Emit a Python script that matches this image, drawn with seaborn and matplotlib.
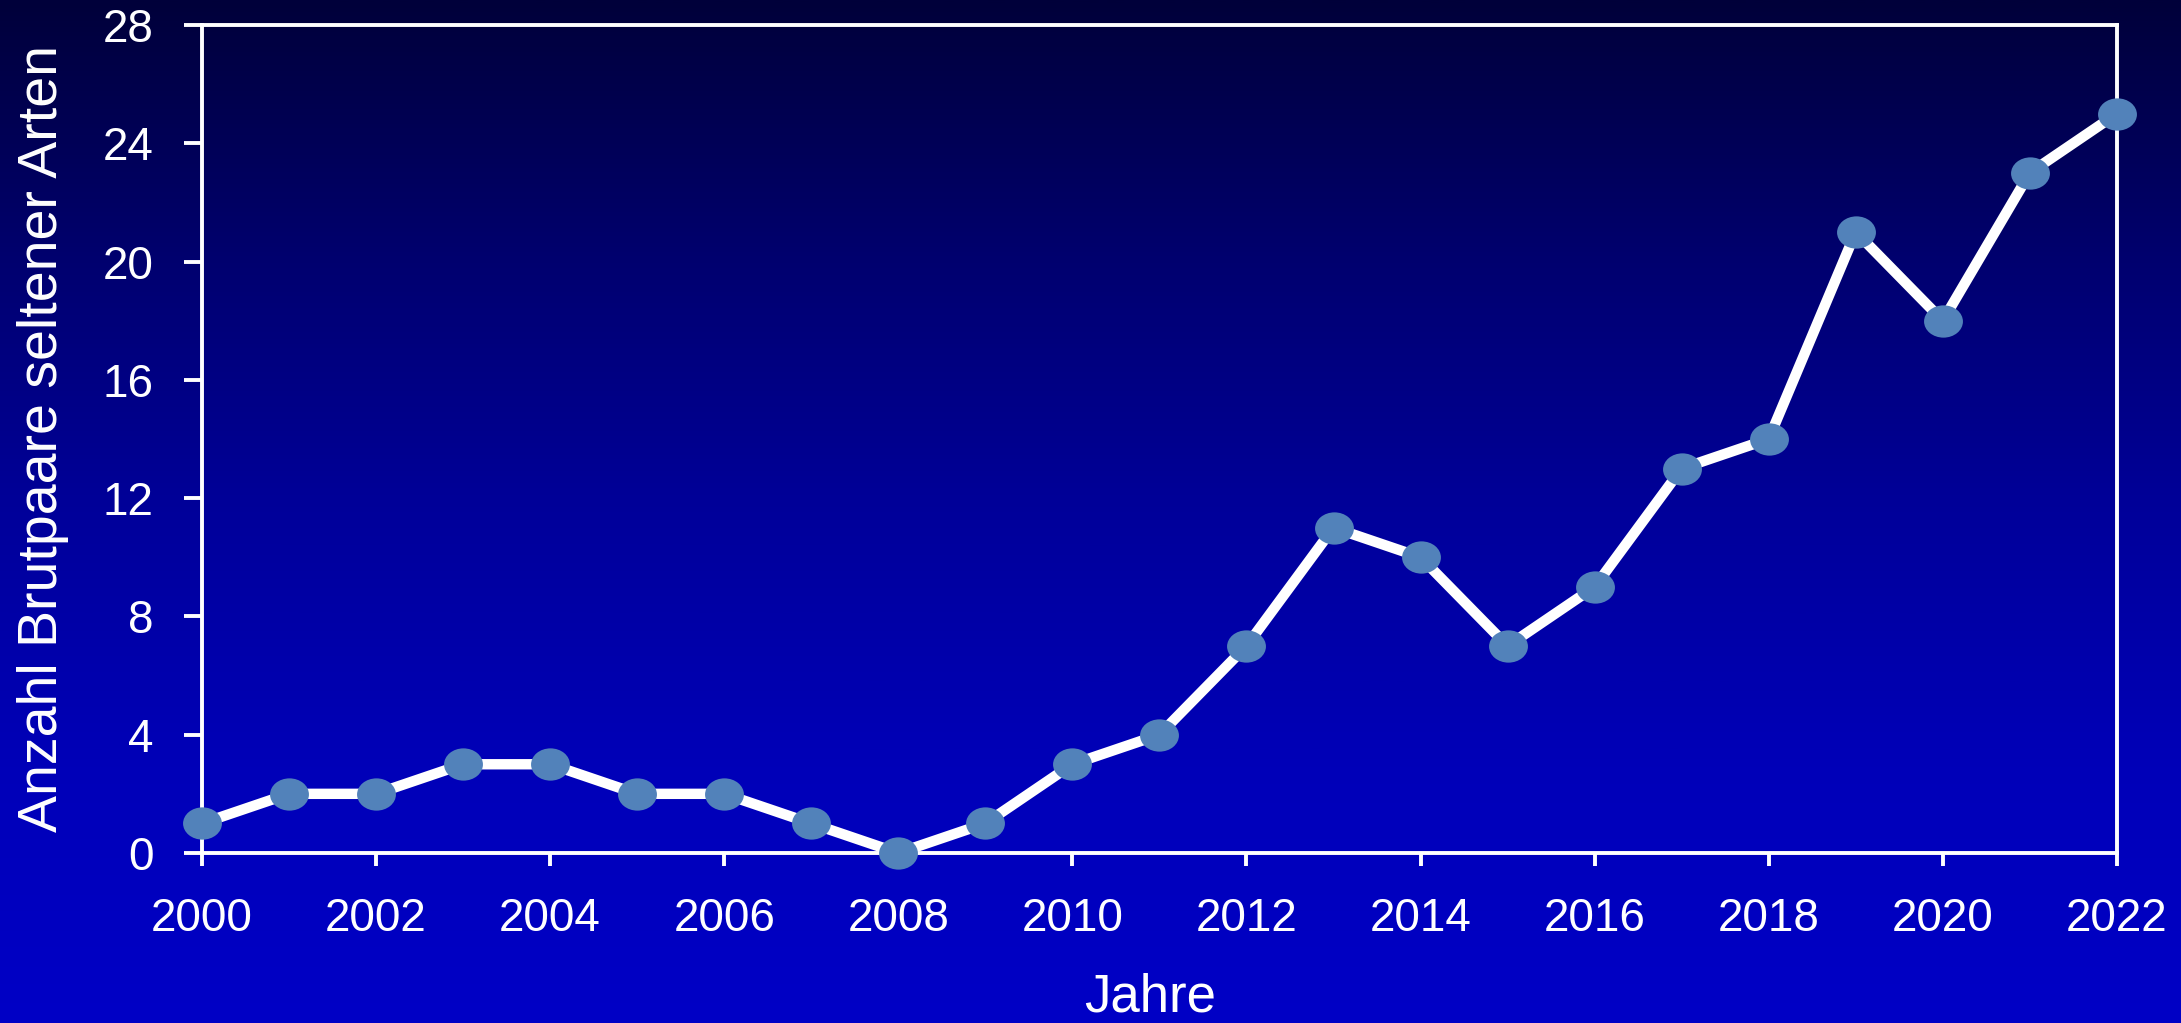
import numpy as np
import pandas as pd
import matplotlib
matplotlib.use("Agg")
import matplotlib.pyplot as plt
from matplotlib.path import Path
from matplotlib.transforms import Affine2D
from matplotlib.colors import LinearSegmentedColormap
import seaborn as sns

# Breeding pairs of rare species per year
years = list(range(2000, 2023))
pairs = [1, 2, 2, 3, 3, 2, 2, 1, 0, 1, 3, 4, 7, 11, 10, 7, 9, 13, 14, 21, 18, 23, 25]
x_ticks = list(range(2000, 2023, 2))
y_ticks = list(range(0, 29, 4))

sns.set_theme(style="ticks")
plt.rcParams["font.family"] = ["Liberation Sans", "DejaVu Sans"]

W, H = 2181, 1023
fig = plt.figure(figsize=(W / 100, H / 100), dpi=100)

# vertical background gradient, dark navy at the top to bright blue at the bottom
bg = fig.add_axes([0, 0, 1, 1], zorder=-10)
grad = np.linspace(0, 1, 512).reshape(-1, 1)
cmap = LinearSegmentedColormap.from_list(
    "bg", ["#00003a", "#00006e", "#00009a", "#0000b8", "#0000c6"])
bg.imshow(grad, aspect="auto", cmap=cmap, extent=[0, 1, 0, 1], origin="upper")
bg.set_axis_off()

ax = fig.add_axes([0.0926, 0.1662, 0.8780, 0.8094])
ax.set_facecolor("none")

df = pd.DataFrame({"Jahr": years, "Brutpaare": pairs})

# slightly flattened ellipse marker
ellipse = Path.unit_circle().transformed(Affine2D().scale(1.0, 0.83))

sns.lineplot(data=df, x="Jahr", y="Brutpaare", ax=ax, color="white",
             linewidth=7.5, marker=ellipse, markersize=28,
             markerfacecolor="#5282ba", markeredgewidth=0,
             clip_on=False, zorder=3)

ax.set_xlim(2000, 2022)
ax.set_ylim(0, 28)
ax.set_xticks(x_ticks)
ax.set_yticks(y_ticks)

for side in ["left", "right", "top", "bottom"]:
    ax.spines[side].set_visible(True)
    ax.spines[side].set_color("white")
    ax.spines[side].set_linewidth(2.8)

ax.tick_params(axis="x", colors="white", labelsize=33, length=9.5, width=2.8,
               pad=22, direction="out")
ax.tick_params(axis="y", colors="white", labelsize=33, length=13, width=2.8,
               pad=22, direction="out")
for lbl in ax.get_xticklabels() + ax.get_yticklabels():
    lbl.set_color("white")

ax.set_xlabel("Jahre", fontsize=38, color="white")
ax.set_ylabel("Anzahl Brutpaare seltener Arten", fontsize=40, color="white")

# pin the axis titles by their baselines
ax.xaxis.label.set_va("baseline")
ax.xaxis.set_label_coords(1150 / W, 1 - 1012 / H, transform=fig.transFigure)
ax.yaxis.label.set_va("baseline")
ax.yaxis.set_label_coords(57 / W, 1 - 438 / H, transform=fig.transFigure)

fig.savefig("out.png", dpi=100)
